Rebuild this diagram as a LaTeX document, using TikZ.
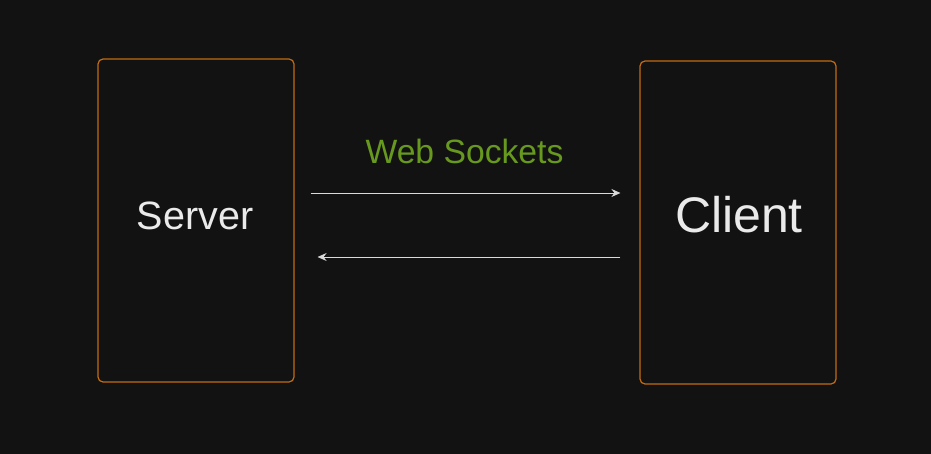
\documentclass[tikz,border=0pt]{standalone}
\usepackage{fontspec}
\setmainfont{Liberation Sans}
\usetikzlibrary{arrows.meta}
\definecolor{bgdark}{HTML}{121212}
\definecolor{boxorange}{HTML}{C46C12}
\definecolor{txtlight}{HTML}{EAEAEA}
\definecolor{wsgreen}{HTML}{67991F}
\definecolor{arrowgray}{HTML}{DADADA}

\begin{document}
\begin{tikzpicture}[x=1pt,y=-1pt,
  endbox/.style={draw=boxorange,line width=1.2pt,rounded corners=5pt,minimum width=196pt,minimum height=323pt,inner sep=0pt},
  boxtext/.style={text=txtlight,anchor=base,inner sep=0pt},
  wsarrow/.style={draw=arrowgray,line width=.9pt,-{Stealth[length=9pt,width=8pt,inset=3pt]}}]
\fill[bgdark] (0,0) rectangle (931,454);
\path[use as bounding box] (0,0) rectangle (931,454);
\node[endbox] (srv) at (196,220.5) {};
\node[endbox] (cli) at (738,222.5) {};
\node[boxtext,font=\fontsize{39.5}{42}\selectfont] (srvtxt) at ([xshift=-1pt,yshift=-9.5pt]srv.center) {Server};
\node[boxtext,font=\fontsize{50}{54}\selectfont] (clitxt) at ([xshift=1pt,yshift=-10.5pt]cli.center) {Client};
\node[text=wsgreen,font=\fontsize{33.7}{36}\selectfont,anchor=base] (ws) at (464.5,164) {Web Sockets};
\draw[wsarrow,shorten <=16pt,shorten >=19pt] (srv.east |- 0,193) -- (cli.west |- 0,193);
\draw[wsarrow,shorten <=19pt,shorten >=23pt] (cli.west |- 0,257) -- (srv.east |- 0,257);
\end{tikzpicture}
\end{document}
